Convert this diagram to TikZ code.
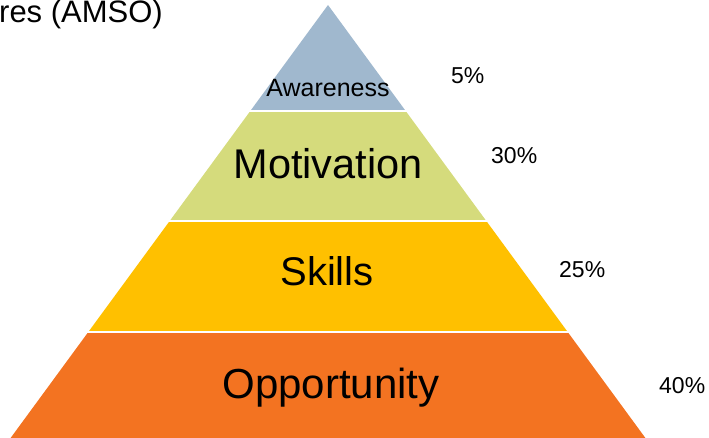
\documentclass[tikz,border=0pt]{standalone}
\usepackage{fontspec}
\setmainfont{Liberation Sans}
\usepackage{xcolor}
\definecolor{tawareness}{HTML}{A0B8CE}
\definecolor{tmotivation}{HTML}{D5DB7C}
\definecolor{tskills}{HTML}{FFC000}
\definecolor{topportunity}{HTML}{F37321}
\tikzset{
  tierlabel/.style={anchor=base, inner sep=0pt, text=black},
  pctlabel/.style={anchor=base west, inner sep=0pt, text=black,
                   font=\fontsize{23}{28}\selectfont},
}

\begin{document}
\begin{tikzpicture}[x=1pt, y=-1pt]
  \useasboundingbox (0,0) rectangle (709,438);
  \coordinate (apex) at (328,5);
  \coordinate (bl) at (10.6,438);
  \coordinate (br) at (645.4,438);

  % one triangle, cut into four bands with white gaps between them
  \foreach \top/\bot/\col in {0/110/tawareness, 113/220/tmotivation,
                              223/330/tskills, 333/440/topportunity}{
    \begin{scope}
      \clip (0,\top) rectangle (709,\bot);
      \fill[\col] (apex) -- (bl) -- (br) -- cycle;
    \end{scope}
  }

  \node[anchor=base east, inner sep=0pt, font=\fontsize{31}{37}\selectfont]
    (title) at (163,23) {res (AMSO)};

  \node[tierlabel, font=\fontsize{25}{30}\selectfont] (aware) at (328,97) {Awareness};
  \node[tierlabel, font=\fontsize{41.5}{50}\selectfont] (motiv) at (328,179) {Motivation};
  \node[tierlabel, font=\fontsize{40}{48}\selectfont] (skill) at (327,285) {Skills};
  \node[tierlabel, font=\fontsize{42}{50}\selectfont] (oppor) at (331,398) {Opportunity};

  \node[pctlabel] (paware) at (451,84) {5\%};
  \node[pctlabel] (pmotiv) at (491,164) {30\%};
  \node[pctlabel] (pskill) at (559,277) {25\%};
  \node[pctlabel] (poppor) at (659,393) {40\%};
\end{tikzpicture}
\end{document}
